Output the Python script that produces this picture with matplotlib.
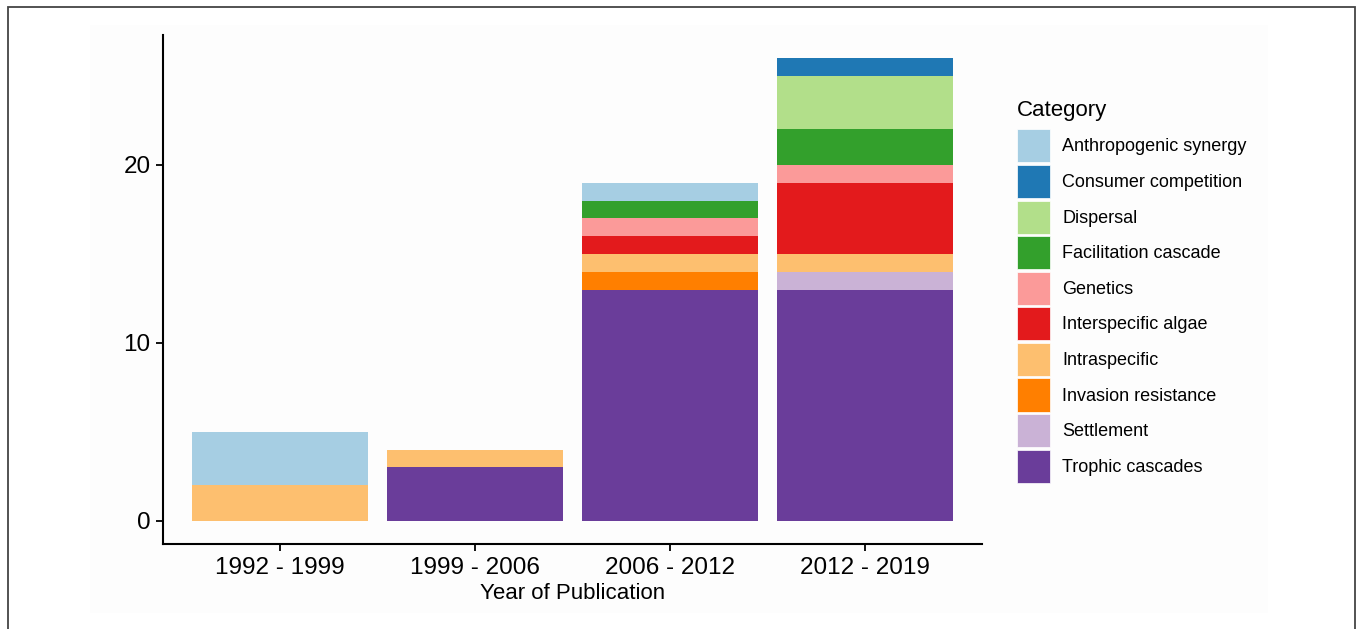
import matplotlib.pyplot as plt
from matplotlib.patches import Patch, Rectangle
import numpy as np

plt.rcParams['font.family'] = ['Liberation Sans', 'DejaVu Sans']

# 数据
periods = ['1992 - 1999', '1999 - 2006', '2006 - 2012', '2012 - 2019']
categories = ['Anthropogenic synergy', 'Consumer competition', 'Dispersal',
              'Facilitation cascade', 'Genetics', 'Interspecific algae',
              'Intraspecific', 'Invasion resistance', 'Settlement',
              'Trophic cascades']
colors = ['#A6CEE3', '#1F78B4', '#B2DF8A', '#33A02C', '#FB9A99',
          '#E31A1C', '#FDBF6F', '#FF7F00', '#CAB2D6', '#6A3D9A']

anthropogenic = [3, 0, 1, 0]
consumer = [0, 0, 0, 1]
dispersal = [0, 0, 0, 3]
facilitation = [0, 0, 1, 2]
genetics = [0, 0, 1, 1]
interspecific = [0, 0, 1, 4]
intraspecific = [2, 1, 1, 1]
invasion = [0, 0, 1, 0]
settlement = [0, 0, 0, 1]
trophic = [0, 3, 13, 13]

values = [anthropogenic, consumer, dispersal, facilitation, genetics,
          interspecific, intraspecific, invasion, settlement, trophic]

fig = plt.figure(figsize=(13.63, 6.29), dpi=100)

# 外框和浅色背景
fig.patches.append(Rectangle((90 / 1363, 16 / 629), 1178 / 1363, 588 / 629,
                             transform=fig.transFigure, facecolor='#FDFDFD',
                             edgecolor='none', zorder=-10))
fig.patches.append(Rectangle((8 / 1363, -0.05), 1347 / 1363, 1.05 - 7 / 629,
                             transform=fig.transFigure, facecolor='none',
                             edgecolor='#444444', linewidth=1.3, zorder=-9))

ax = fig.add_axes([163 / 1363, 1 - 544 / 629, 819 / 1363, 509 / 629])
ax.set_facecolor('none')

x = np.arange(1, len(periods) + 1)
bottom = np.zeros(len(periods))
# 从下往上堆叠: 最后一个类别在最下面
for cat, col, val in zip(categories[::-1], colors[::-1], values[::-1]):
    val = np.array(val, dtype=float)
    ax.bar(x, val, width=0.9, bottom=bottom, color=col, linewidth=0,
           label=cat)
    bottom += val

ax.set_xlim(0.4, 4.6)
ax.set_ylim(-1.3, 27.3)
ax.set_xticks(x)
ax.set_xticklabels(periods)
ax.set_yticks([0, 10, 20])

for s in ['top', 'right']:
    ax.spines[s].set_visible(False)
for s in ['left', 'bottom']:
    ax.spines[s].set_linewidth(1.5)
ax.tick_params(axis='both', direction='out', length=5, width=1.3,
               labelsize=17.5, colors='black', pad=4)

ax.set_xlabel('Year of Publication', fontsize=16, labelpad=3.5)

handles = [Patch(facecolor=c, edgecolor='white', linewidth=0.5) for c in colors]
leg = fig.legend(handles, categories, title='Category', loc='upper left',
                 bbox_to_anchor=(1017 / 1363, 1 - 100 / 629), frameon=False,
                 fontsize=13, title_fontsize=16, handlelength=1.85,
                 handleheight=2.44, labelspacing=0.14, handletextpad=0.65,
                 borderpad=0, borderaxespad=0, alignment='left')
leg._legend_box.sep = 6

plt.savefig('out.png', dpi=100)
